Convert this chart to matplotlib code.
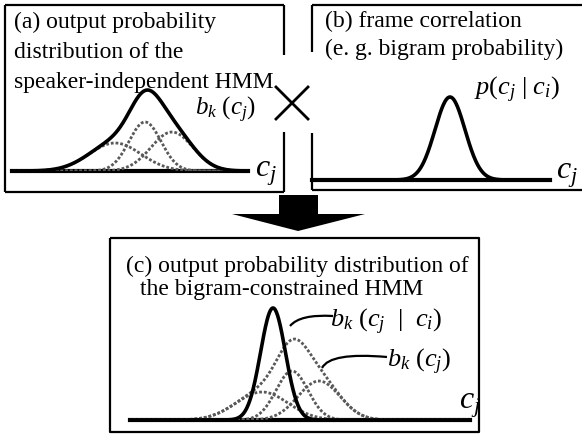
import numpy as np
import matplotlib.pyplot as plt
from matplotlib.path import Path
from matplotlib.patches import PathPatch, Polygon

plt.rcParams['font.family'] = ['Liberation Serif', 'DejaVu Serif']
plt.rcParams['mathtext.fontset'] = 'custom'
plt.rcParams['mathtext.rm'] = 'Liberation Serif'
plt.rcParams['mathtext.it'] = 'Liberation Serif:italic'

# mixture components of b_k(c_j)  (c_j units, probability units)
comp_mean = [5.15, 6.65, 8.0]
comp_sigma = [1.3, 0.8, 1.05]
comp_height = [0.28, 0.49, 0.39]

# frame correlation p(c_j | c_i)
bigram_mean = 6.9
bigram_sigma = 0.75
bigram_height = 0.83

# bigram-constrained b_k(c_j | c_i)
constr_mean = 5.7
constr_sigma = 0.62
constr_height = 1.12

text_a = ["(a) output probability", "distribution of the", "speaker-independent HMM"]
text_b = ["(b) frame correlation", "(e. g. bigram probability)"]
text_c = ["(c) output probability distribution of", "the bigram-constrained HMM"]

W, H = 582, 434
fig = plt.figure(figsize=(W / 100, H / 100), dpi=100)


def rect(x0, y0, x1, y1):
    return [x0 / W, 1 - y1 / H, (x1 - x0) / W, (y1 - y0) / H]


def gauss(x, m, s, h):
    return h * np.exp(-0.5 * ((x - m) / s) ** 2)


# background axes in pixel coordinates
bg = fig.add_axes([0, 0, 1, 1])
bg.set_xlim(0, W)
bg.set_ylim(H, 0)
bg.axis('off')

lw_box = 1.6
k = dict(color='black', lw=lw_box, solid_capstyle='butt')
# box (a)
bg.plot([5, 284], [5, 5], **k)
bg.plot([5, 5], [5, 192], **k)
bg.plot([5, 284], [192, 192], **k)
bg.plot([284, 284], [5, 55], **k)
bg.plot([284, 284], [132, 192], **k)
# box (b)
bg.plot([312, W], [5, 5], **k)
bg.plot([312, W], [190, 190], **k)
bg.plot([312, 312], [5, 52], **k)
bg.plot([312, 312], [133, 190], **k)
# box (c)
bg.plot([110, 479, 479, 110, 110], [238, 238, 432, 432, 238], **k)

# times sign
bg.plot([276, 308], [87, 119], color='black', lw=2)
bg.plot([276, 308], [119, 87], color='black', lw=2)

# big down arrow
bg.add_patch(Polygon([(279, 195), (318, 195), (318, 214), (365, 214),
                      (298, 231), (232, 214), (279, 214)],
                     closed=True, color='black', lw=0))

for i, t in enumerate(text_a):
    bg.text(14, 28 + 30 * i, t, fontsize=17, va='baseline', ha='left')
for i, t in enumerate(text_b):
    bg.text(325, 27 + 28 * i, t, fontsize=17, va='baseline', ha='left')
bg.text(126, 272, text_c[0], fontsize=17, va='baseline', ha='left')
bg.text(140, 295, text_c[1], fontsize=17, va='baseline', ha='left')

bg.text(195, 115, r'$b_k\ (c_j)$', fontsize=18, va='baseline')
bg.text(474, 95, r'$p(c_j\ |\ c_i)$', fontsize=19, va='baseline')
bg.text(330, 327, r'$b_k\ (c_j\ \ |\ \ c_i)$', fontsize=19, va='baseline')
bg.text(387, 367, r'$b_k\ (c_j)$', fontsize=19, va='baseline')
bg.text(255, 177, r'$c_j$', fontsize=23, va='baseline')
bg.text(556, 178, r'$c_j$', fontsize=23, va='baseline')
bg.text(459, 408, r'$c_j$', fontsize=23, va='baseline')

# leader lines in (c)
for p in [[(290, 326), (300, 314), (333, 316)],
          [(322, 368), (330, 352), (387, 357)]]:
    bg.add_patch(PathPatch(Path(p, [Path.MOVETO, Path.CURVE3, Path.CURVE3]),
                           fill=False, color='black', lw=1.6))

dot = dict(color='0.35', lw=2.0, linestyle=(0, (1, 0.7)))
thick = dict(color='black', lw=2.6)


def panel(x0, x1, base, offset):
    ax = fig.add_axes(rect(x0, base - 120, x1, base))
    ax.set_xlim(offset, offset + (x1 - x0) / 20)
    ax.set_ylim(0, 1.2)
    ax.axis('off')
    ax.axhline(0, color='black', lw=3, clip_on=False)
    return ax


x = np.linspace(-2, 20, 800)
comps = [gauss(x, m, s, h) for m, s, h in zip(comp_mean, comp_sigma, comp_height)]
mix = np.sum(comps, axis=0)

# panel (a)
ax_a = panel(12, 248, 171, 0)
for c in comps:
    ax_a.plot(x, c, **dot)
ax_a.plot(x, mix, **thick)

# panel (b)
ax_b = panel(312, 550, 180, 0)
ax_b.plot(x, gauss(x, bigram_mean, bigram_sigma, bigram_height), **thick)

# panel (c)
ax_c = panel(130, 470, 420, -1.45)
for c in comps:
    ax_c.plot(x, c, **dot)
ax_c.plot(x, mix, **dot)
ax_c.plot(x, gauss(x, constr_mean, constr_sigma, constr_height), **thick)

fig.savefig('out.png', dpi=100)
